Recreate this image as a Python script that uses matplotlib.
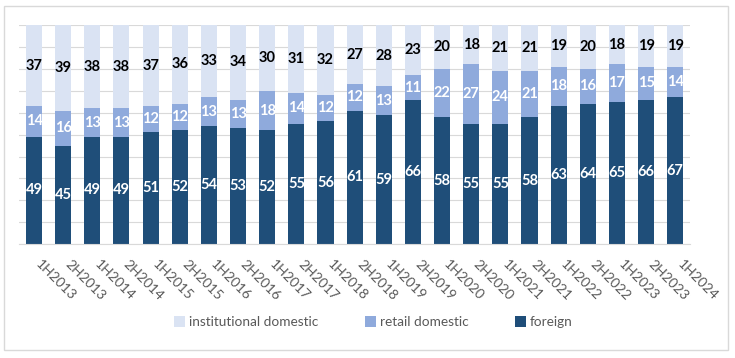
import numpy as np
import matplotlib.pyplot as plt
import matplotlib.transforms as mtransforms
from matplotlib.patches import Rectangle

plt.rcParams['font.family'] = ['Lato', 'DejaVu Sans']

periods = ['1H2013', '2H2013', '1H2014', '2H2014', '1H2015', '2H2015', '1H2016', '2H2016',
           '1H2017', '2H2017', '1H2018', '2H2018', '1H2019', '2H2019', '1H2020', '2H2020',
           '1H2021', '2H2021', '1H2022', '2H2022', '1H2023', '2H2023', '1H2024']
foreign = [49, 45, 49, 49, 51, 52, 54, 53, 52, 55, 56, 61, 59, 66, 58, 55, 55, 58, 63, 64, 65, 66, 67]
retail = [14, 16, 13, 13, 12, 12, 13, 13, 18, 14, 12, 12, 13, 11, 22, 27, 24, 21, 18, 16, 17, 15, 14]
institutional = [37, 39, 38, 38, 37, 36, 33, 34, 30, 31, 32, 27, 28, 23, 20, 18, 21, 21, 19, 20, 18, 19, 19]

c_for = '#1F4E79'
c_ret = '#8FAADC'
c_ins = '#DAE3F3'

fig = plt.figure(figsize=(7.35, 3.58), dpi=100)
ax = fig.add_axes([0.0265, 0.318, 0.912, 0.612])

x = np.arange(len(periods))
w = 0.55
foreign = np.array(foreign)
retail = np.array(retail)
institutional = np.array(institutional)

b1 = ax.bar(x, foreign, w, color=c_for, label='foreign', zorder=2)
b2 = ax.bar(x, retail, w, bottom=foreign, color=c_ret, label='retail domestic', zorder=2)
b3 = ax.bar(x, institutional, w, bottom=foreign + retail, color=c_ins, label='institutional domestic', zorder=2)

ax.bar_label(b1, label_type='center', color='white', fontweight='bold', fontsize=10.5)
ax.bar_label(b2, label_type='center', color='white', fontweight='bold', fontsize=10.5)
ax.bar_label(b3, label_type='center', color='black', fontweight='bold', fontsize=10.5)

ax.set_xlim(-0.5, len(periods) - 0.5)
ax.set_ylim(0, 100)
ax.set_yticks(np.arange(0, 101, 10))
ax.set_yticklabels([])
ax.tick_params(axis='y', length=0)
ax.grid(axis='y', color='#D9D9D9', linewidth=0.8, zorder=0)

ax.set_xticks(x)
ax.set_xticklabels(periods, rotation=-45, ha='left', va='top', rotation_mode='anchor',
                   color='#595959', fontsize=10)
ax.tick_params(axis='x', length=0, pad=10)
# nudge the slanted labels a little to the right, like the original
offset = mtransforms.ScaledTranslation(6 / 72, 0, fig.dpi_scale_trans)
for lbl in ax.get_xticklabels():
    lbl.set_transform(lbl.get_transform() + offset)

for s in ['top', 'right', 'left']:
    ax.spines[s].set_visible(False)
ax.spines['bottom'].set_color('#D9D9D9')

handles = [b3, b2, b1]
leg = fig.legend(handles, [h.get_label() for h in handles], loc='center', ncol=3,
                 bbox_to_anchor=(0.508, 0.1), frameon=False, fontsize=9.8,
                 handlelength=0.8, handleheight=0.8, columnspacing=3.4, handletextpad=0.3)
for t in leg.get_texts():
    t.set_color('#595959')

fig.patches.append(Rectangle((0.006, 0.022), 0.985, 0.96, transform=fig.transFigure,
                             fill=False, edgecolor='#D9D9D9', linewidth=1))

fig.savefig('out.png', dpi=100)
